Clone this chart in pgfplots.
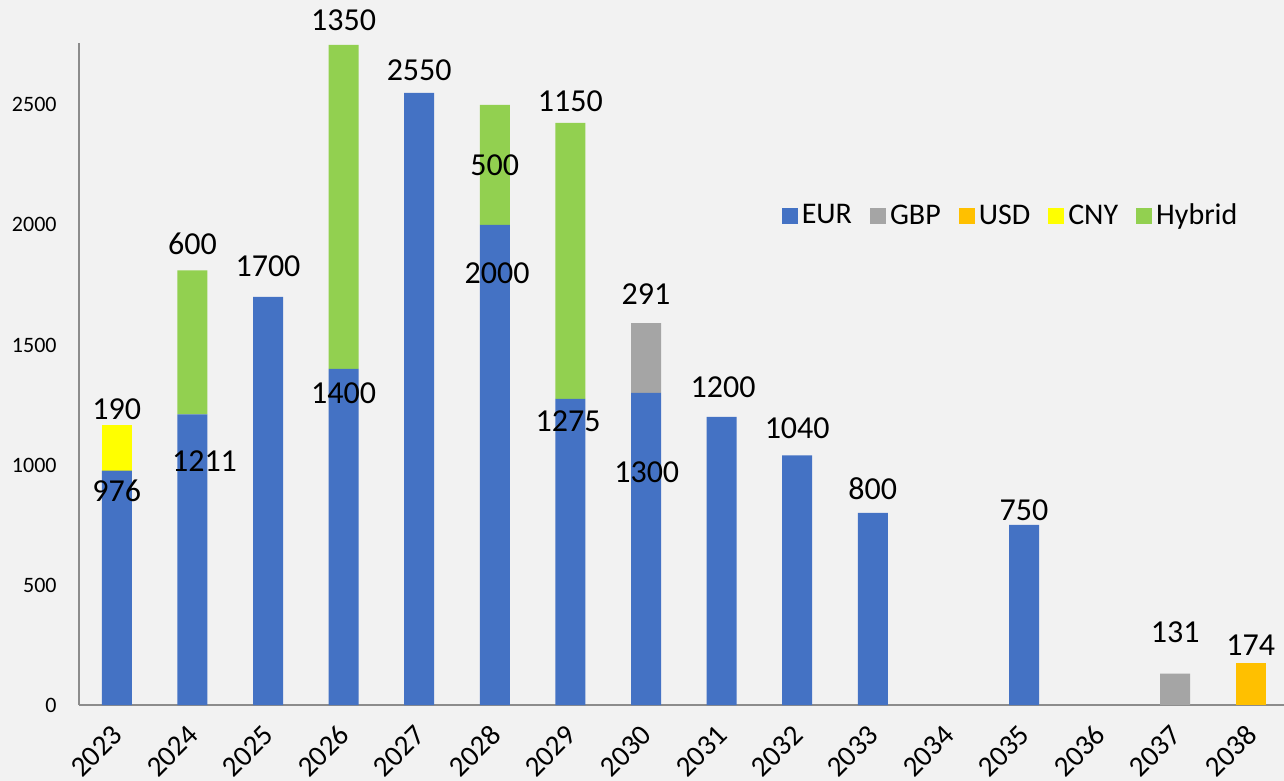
\documentclass[border=0pt]{standalone}
\usepackage{pgfplots}
\pgfplotsset{compat=1.18}
\usepackage{fontspec}
\setmainfont{Carlito}
\usetikzlibrary{calc,backgrounds}

\definecolor{eur}{HTML}{4472C4}
\definecolor{gbp}{HTML}{A5A5A5}
\definecolor{usd}{HTML}{FFC000}
\definecolor{cny}{HTML}{FFFF00}
\definecolor{hyb}{HTML}{92D050}
\definecolor{bgcol}{HTML}{F2F2F2}
\definecolor{axcol}{HTML}{8C8C8C}

\newcommand{\lbl}{\fontsize{16}{18}\selectfont}

\begin{document}
\begin{tikzpicture}
\begin{axis}[
    name=ax,
    scale only axis,
    width=604.8pt, height=331pt,
    ybar stacked,
    bar width=15pt,
    xmin=-0.5, xmax=15.5,
    ymin=0, ymax=2758,
    enlargelimits=false,
    clip=false,
    axis lines*=left,
    axis line style={axcol, line width=0.8pt, -},
    major tick length=0pt,
    xtick={0,...,15},
    xticklabels={2023,2024,2025,2026,2027,2028,2029,2030,2031,2032,2033,2034,2035,2036,2037,2038},
    xticklabel style={font=\fontsize{14.5}{16}\selectfont, anchor=east, inner sep=0pt, xshift=0.5pt, yshift=-12.5pt, rotate=45},
    ytick={0,500,1000,1500,2000,2500},
    yticklabel style={font=\fontsize{11}{13}\selectfont, anchor=east, inner sep=0pt, xshift=-11pt},
    /pgf/number format/assume math mode=true,
    /pgf/number format/1000 sep={},
    legend style={at={(0.771,0.739)}, anchor=center, draw=none, fill=none,
        font=\fontsize{15}{17}\selectfont, legend columns=-1,
        /tikz/every even column/.append style={column sep=7pt}},
    legend image code/.code={\fill[#1] (0pt,-4pt) rectangle (8pt,4pt);},
]
\addplot[fill=eur, draw=none] coordinates {(0,976) (1,1211) (2,1700) (3,1400) (4,2550) (5,2000) (6,1275) (7,1300) (8,1200) (9,1040) (10,800) (11,0) (12,750) (13,0) (14,0) (15,0)};
\addplot[fill=gbp, draw=none] coordinates {(0,0) (1,0) (2,0) (3,0) (4,0) (5,0) (6,0) (7,291) (8,0) (9,0) (10,0) (11,0) (12,0) (13,0) (14,131) (15,0)};
\addplot[fill=usd, draw=none] coordinates {(0,0) (1,0) (2,0) (3,0) (4,0) (5,0) (6,0) (7,0) (8,0) (9,0) (10,0) (11,0) (12,0) (13,0) (14,0) (15,174)};
\addplot[fill=cny, draw=none] coordinates {(0,190) (1,0) (2,0) (3,0) (4,0) (5,0) (6,0) (7,0) (8,0) (9,0) (10,0) (11,0) (12,0) (13,0) (14,0) (15,0)};
\addplot[fill=hyb, draw=none] coordinates {(0,0) (1,600) (2,0) (3,1350) (4,0) (5,500) (6,1150) (7,0) (8,0) (9,0) (10,0) (11,0) (12,0) (13,0) (14,0) (15,0)};
\legend{EUR,GBP,USD,CNY,Hybrid}

% data label positions (texts are set after the axis, over the bars)
\coordinate (a190) at (axis cs:0,1233);
\coordinate (a976) at (axis cs:0,892);
\coordinate (a1211) at (axis cs:1.16,1017);
\coordinate (a600) at (axis cs:1,1921);
\coordinate (a1700) at (axis cs:2,1829);
\coordinate (a1350) at (axis cs:3,2854);
\coordinate (a1400) at (axis cs:3,1300);
\coordinate (a2550) at (axis cs:4,2646);
\coordinate (a500) at (axis cs:5,2250);
\coordinate (a2000) at (axis cs:5.03,1800);
\coordinate (a1150) at (axis cs:6,2517);
\coordinate (a1275) at (axis cs:5.97,1183);
\coordinate (a291) at (axis cs:7,1713);
\coordinate (a1300) at (axis cs:7.01,971);
\coordinate (a1200) at (axis cs:8.02,1325);
\coordinate (a1040) at (axis cs:9,1154);
\coordinate (a800) at (axis cs:10,900);
\coordinate (a750) at (axis cs:12,812);
\coordinate (a131) at (axis cs:14,304);
\coordinate (a174) at (axis cs:15,250);
\end{axis}
\foreach \v in {190,976,1211,600,1700,1350,1400,2550,500,2000,1150,1275,291,1300,1200,1040,800,750,131,174}
    \node[font=\lbl] at (a\v) {\v};
\begin{scope}[on background layer]
\fill[bgcol] ($(ax.south west)+(-39.5pt,-38pt)$) rectangle ($(ax.south west)+(602.5pt,352.5pt)$);
\end{scope}
\pgfresetboundingbox
\path[use as bounding box] ($(ax.south west)+(-39.5pt,-38pt)$) rectangle ($(ax.south west)+(602.5pt,352.5pt)$);
\end{tikzpicture}
\end{document}
